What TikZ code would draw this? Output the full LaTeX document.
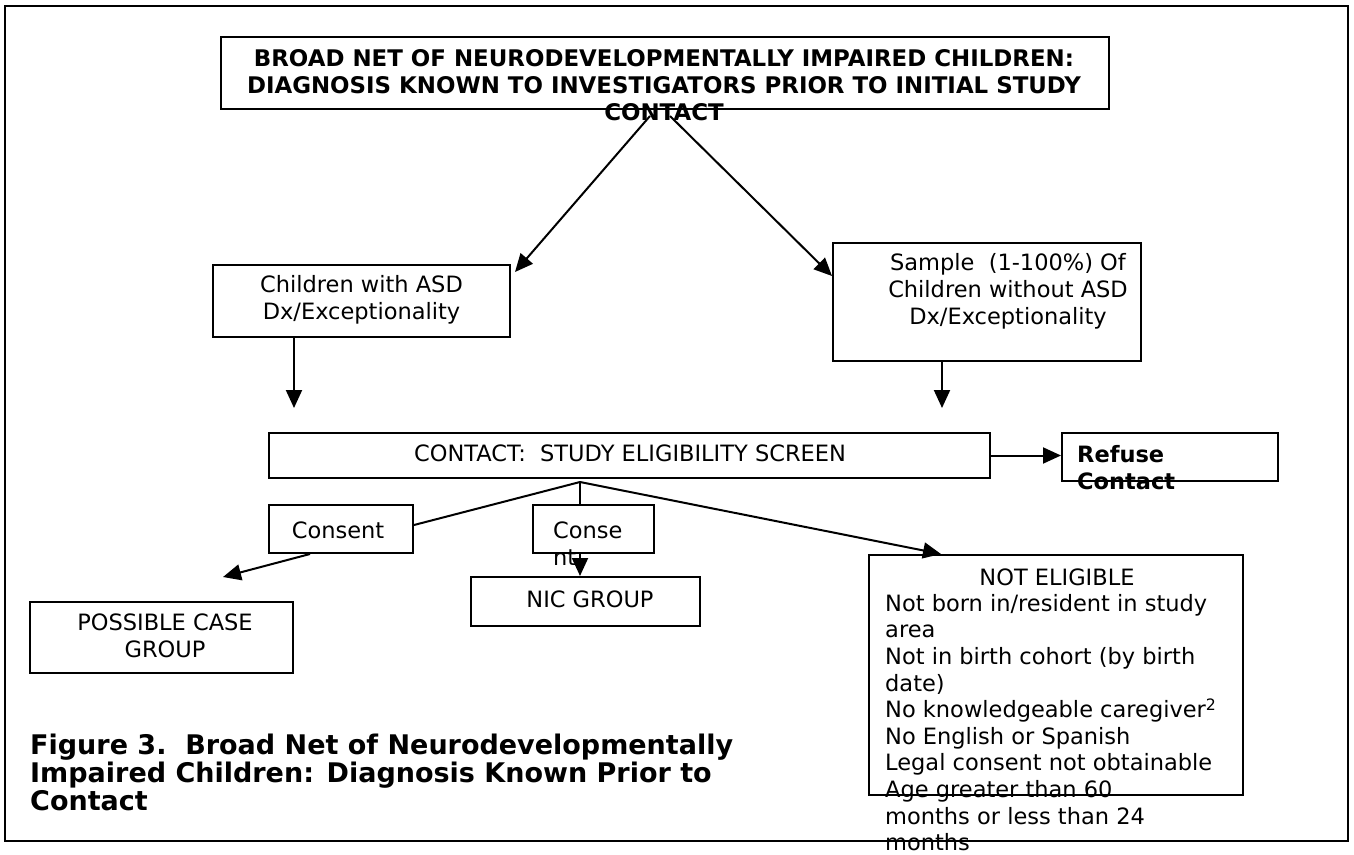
\documentclass[tikz,border=0pt]{standalone}
\usepackage{fontspec}
\setmainfont{DejaVu Sans}
\usetikzlibrary{arrows.meta}
\tikzset{
  box/.style={draw, line width=2pt, inner sep=0pt, anchor=center},
  txt/.style={inner sep=0pt, font=\fontsize{22.5}{27}\selectfont},
  btxt/.style={inner sep=0pt, font=\fontsize{22.5}{27}\selectfont\bfseries},
  conn/.style={line width=2pt},
  arr/.style={line width=2pt, -{Triangle[length=18pt,width=16pt]}},
}
\begin{document}
\begin{tikzpicture}[x=1pt,y=-1pt]
\useasboundingbox (0,0) rectangle (1354,854);
\draw[line width=2.5pt] (5,6) rectangle (1348,841);

% boxes
\node[box, minimum width=888pt, minimum height=72pt] (top) at (665,73) {};
\node[box, minimum width=297pt, minimum height=72pt] (child) at (361.5,301) {};
\node[box, minimum width=308pt, minimum height=118pt] (sample) at (987,302) {};
\node[box, minimum width=721pt, minimum height=45pt] (contact) at (629.5,455.5) {};
\node[box, minimum width=216pt, minimum height=48pt] (refuse) at (1170,457) {};
\node[box, minimum width=144pt, minimum height=48pt] (cons1) at (341,529) {};
\node[box, minimum width=121pt, minimum height=48pt] (cons2) at (593.5,529) {};
\node[box, minimum width=229pt, minimum height=49pt] (nic) at (585.5,601.5) {};
\node[box, minimum width=263pt, minimum height=71pt] (poss) at (161.5,637.5) {};
\node[box, minimum width=374pt, minimum height=240pt] (ne) at (1056,675) {};

% texts
\node[inner sep=0pt, font=\fontsize{22.9}{27}\selectfont\bfseries, align=center] (toptxt) at (664,85) {BROAD NET OF NEURODEVELOPMENTALLY IMPAIRED CHILDREN:\\DIAGNOSIS KNOWN TO INVESTIGATORS PRIOR TO INITIAL STUDY\\CONTACT};
\node[txt, align=center] (childtxt) at (361.5,299.5) {Children with ASD\\Dx/Exceptionality};
\node[txt, align=center] (sampletxt) at (1008,291) {Sample\ \ (1-100\%) Of\\Children without ASD\\Dx/Exceptionality};
\node[txt] (contacttxt) at (630,453) {CONTACT:\ \ STUDY ELIGIBILITY SCREEN};
\node[btxt, align=left, anchor=west] (refusetxt) at (1077,468) {Refuse\\Contact};
\node[txt] (cons1txt) at (338,530) {Consent};
\node[txt, align=left, anchor=west] (cons2txt) at (553,544) {Conse\\nt};
\node[txt] (nictxt) at (590,599) {NIC GROUP};
\node[txt, align=center] (posstxt) at (165,635.5) {POSSIBLE CASE\\GROUP};
\node[txt] (netitle) at (1057,577) {NOT ELIGIBLE};
\node[inner sep=0pt, font=\fontsize{22.5}{26.6}\selectfont, align=left, anchor=west] (nelist) at (885,722.5)
  {Not born in/resident in study\\area\\Not in birth cohort (by birth\\date)\\No knowledgeable caregiver\textsuperscript{2}\\No English or Spanish\\Legal consent not obtainable\\Age greater than 60\\months or less than 24\\months};
\node[inner sep=0pt, font=\fontsize{27}{27.8}\selectfont\bfseries, align=left, anchor=west] (caption) at (30,772.5)
  {Figure 3.\ \ Broad Net of Neurodevelopmentally\\Impaired Children: Diagnosis Known Prior to\\Contact};

% connectors
\coordinate (br) at (580,482);
\coordinate (d1) at (294,408);
\coordinate (d2) at (942,408);
\coordinate (d3) at (223,577);
\draw[arr] ([xshift=-15pt,yshift=-6pt]top.south) -- ([xshift=4pt,yshift=-8pt]child.north east);
\draw[arr] ([xshift=5pt,yshift=-6pt]top.south) -- ([yshift=-34pt]sample.north west);
\draw[arr] ([xshift=-67.5pt]child.south) -- (d1);
\draw[arr] ([xshift=-45pt]sample.south) -- (d2);
\draw[arr] (contact.east) -- (contact.east -| refuse.west);
\draw[conn] (br) -- ([yshift=4pt]cons1.east);
\draw[conn] (br) -- (br |- cons2.north);
\draw[arr] (br) -- ([xshift=73pt]ne.north west);
\draw[arr] ([xshift=-31pt]cons1.south) -- (d3);
\draw[arr] (br |- cons2.south) -- (br |- nic.north);
\end{tikzpicture}
\end{document}
